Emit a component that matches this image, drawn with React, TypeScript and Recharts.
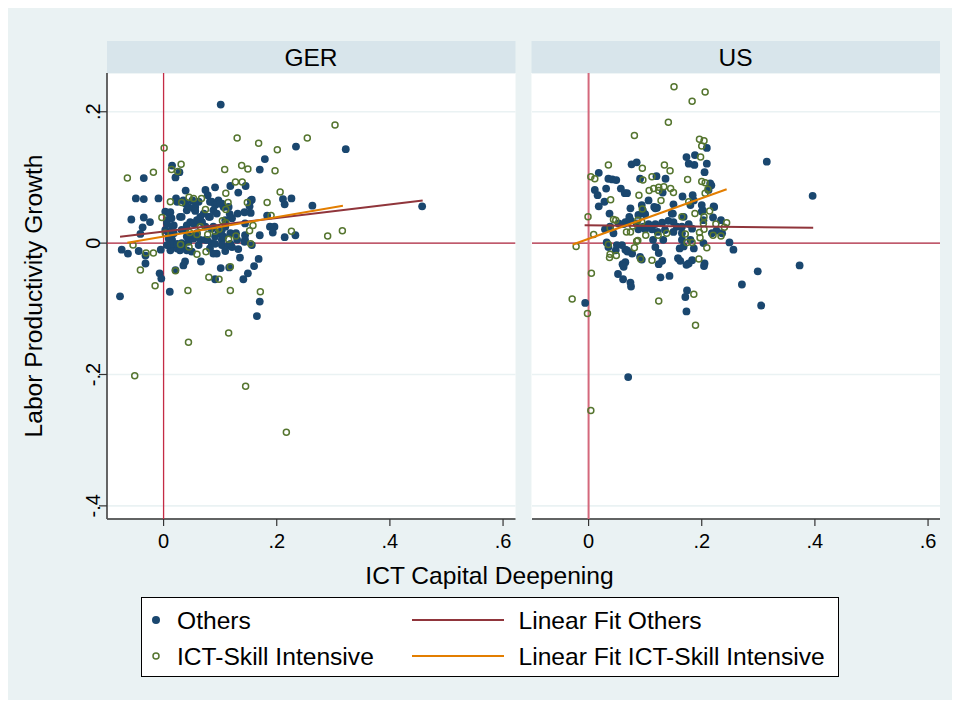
import React from "react";
import { ScatterChart, Scatter, XAxis, YAxis, CartesianGrid } from "recharts";

const FONT = "'Liberation Sans', Arial, Helvetica, sans-serif";
const NAVY = "#1A476F";
const GREEN = "#55752F";
const MAROON = "#90353B";
const ORANGE = "#E37E00";
const BG = "#EAF2F3";
const STRIP = "#D8E5EB";

const panels = ["GER", "US"];
const xTicks = [0, 0.2, 0.4, 0.6];
const yTicks = [-0.4, -0.2, 0, 0.2];
const xDomain = [-0.1, 0.622];
const yDomain = [-0.42, 0.259];

const gerOthers: number[][] = [
  [0.101,0.211],[0.234,0.147],[0.322,0.143],[0.457,0.056],[0.179,0.128],[0.170,0.112],[0.015,0.118],[0.021,0.100],[0.028,0.108],[-0.035,0.099],
  [-0.049,0.068],[-0.035,0.067],[-0.009,0.068],[0.091,0.085],[0.039,0.080],[0.118,0.087],[0.145,0.087],[0.132,0.077],[0.078,0.073],[0.156,0.066],
  [0.211,0.067],[0.226,0.068],[0.214,0.059],[0.263,0.057],[-0.057,0.036],[-0.035,0.039],[-0.024,0.032],[-0.037,0.024],[-0.041,0.014],[-0.074,-0.010],
  [-0.063,-0.016],[-0.044,-0.012],[-0.032,-0.019],[-0.032,-0.031],[-0.005,-0.010],[-0.077,-0.081],[-0.007,-0.046],[-0.004,-0.054],[0.011,-0.074],[0.035,-0.034],
  [0.066,-0.028],[0.094,-0.016],[0.101,-0.038],[0.091,-0.055],[0.116,-0.037],[0.135,-0.022],[0.168,-0.024],[0.160,-0.035],[0.149,-0.046],[0.141,-0.055],
  [0.165,-0.111],[0.170,-0.089],[0.132,-0.009],[0.170,0.012],[0.214,0.009],[0.233,0.012],[0.188,0.025],[0.196,0.025],[0.193,0.016],[0.183,0.042],
  [0.143,0.047],[0.154,0.046],[0.152,0.056],[0.154,0.065],[0.117,0.044],[0.144,0.012],[0.128,0.015],
  [0.022,0.068],[0.024,0.063],[0.039,0.060],[0.051,0.065],[0.062,0.063],[0.053,0.053],[0.041,0.050],[0.056,0.049],[0.085,0.063],[0.097,0.065],
  [0.103,0.060],[0.088,0.050],[0.094,0.045],[0.106,0.055],[0.115,0.055],[0.131,0.045],[0.144,0.030],[0.121,0.038],[0.103,0.020],[0.068,0.032],
  [0.056,0.030],[0.047,0.032],[0.041,0.027],[0.038,0.020],[0.047,0.010],[0.059,0.015],[0.074,0.025],[0.085,0.022],[0.091,0.010],[0.103,0.005],
  [0.118,0.015],[0.003,0.048],[0.010,0.045],[0.006,0.035],[0.003,0.020],[0.009,0.015],[0.015,0.005],[0.021,-0.006],[0.012,-0.011],[0.009,-0.003],
  [0.024,-0.008],[0.032,0.000],[0.044,0.007],[0.053,0.007],[0.074,0.005],[0.085,0.000],[0.103,-0.003],[0.115,-0.003],[0.156,-0.003],[0.021,-0.041],
  [0.029,0.040],[0.018,0.027],[0.032,0.020],[0.080,0.040],[0.109,0.035],[0.130,0.005],[0.144,0.005],[0.062,-0.003],[0.041,-0.011],[0.038,-0.028],
  [0.088,-0.016],[0.121,-0.006],[0.074,0.081],[0.050,-0.013],[0.082,-0.008],[0.109,-0.012],[0.143,0.002],
  [0.012,0.047],[0.014,0.038],[0.006,0.030],[0.015,0.025],[0.018,0.015],[0.009,0.007],[0.015,-0.001],[0.029,-0.011],[0.035,-0.003],[0.041,0.010],
  [0.053,0.030],[0.059,0.035],[0.065,0.040],[0.071,0.045],[0.056,0.055],[0.044,0.055],[0.032,0.040],[0.035,0.065],[0.082,0.063],[0.091,0.058],
  [0.100,0.060],[0.082,0.040],[0.088,0.025],[0.097,0.015],[0.109,0.025],[0.106,0.010],[0.118,-0.001],[0.091,-0.001],[0.077,0.005],[0.065,0.005],
  [0.056,0.012],[0.044,0.002],[0.024,-0.001],[0.006,-0.003]
];

const gerIct: number[][] = [
  [0.303,0.180],[0.130,0.160],[0.168,0.152],[0.201,0.142],[0.254,0.160],[0.001,0.145],[-0.064,0.099],[-0.018,0.108],[0.014,0.112],[0.031,0.120],
  [0.025,0.109],[0.108,0.112],[0.138,0.118],[0.149,0.113],[0.197,0.110],[0.127,0.093],[0.139,0.093],[0.110,0.076],[0.206,0.078],[0.012,0.063],
  [0.032,0.062],[0.045,0.070],[0.053,0.068],[0.067,0.068],[0.114,0.062],[0.148,0.062],[0.183,0.062],[0.074,0.051],[0.110,0.051],[-0.003,0.039],
  [0.190,0.042],[0.104,0.034],[0.110,0.031],[0.158,0.027],[0.152,0.019],[0.065,0.025],[0.098,0.021],[0.091,0.018],[0.046,0.016],[0.059,0.013],
  [0.078,0.013],[0.003,0.015],[0.128,0.011],[0.115,0.006],[0.226,0.018],[0.290,0.011],[0.316,0.019],[0.154,-0.001],[-0.054,-0.003],[0.030,-0.002],
  [0.045,-0.006],[-0.031,-0.015],[-0.018,-0.015],[0.059,-0.017],[0.075,-0.013],[-0.041,-0.041],[0.021,-0.042],[0.080,-0.052],[0.098,-0.055],[0.118,-0.036],
  [-0.015,-0.065],[0.043,-0.072],[0.118,-0.072],[0.171,-0.074],[0.044,-0.151],[0.115,-0.137],[-0.051,-0.202],[0.145,-0.218],[0.217,-0.288]
];

const usOthers: number[][] = [
  [0.315,0.124],[0.396,0.072],[0.018,0.107],[0.035,0.098],[0.042,0.097],[0.049,0.096],[0.076,0.120],[0.085,0.123],[0.011,0.081],[0.016,0.073],
  [0.031,0.083],[0.057,0.083],[0.064,0.076],[0.068,0.076],[0.091,0.098],[0.120,0.102],[0.136,0.098],[0.028,0.063],[0.018,0.056],[0.037,0.045],
  [0.106,0.065],[0.116,0.055],[0.121,0.054],[0.094,0.058],[0.072,0.040],[0.065,0.032],[0.131,0.077],[0.173,0.131],[0.188,0.134],[0.177,0.121],
  [0.187,0.119],[0.209,0.121],[0.209,0.145],[0.205,0.108],[0.217,0.088],[0.212,0.081],[0.221,0.056],[0.166,0.071],[0.184,0.073],[0.149,0.045],
  [0.168,0.040],[0.180,0.058],[0.202,0.050],[0.220,0.039],[0.234,0.035],[0.226,0.019],[0.218,0.015],[0.249,0.001],[0.256,-0.010],[0.029,0.021],
  [0.038,0.025],[0.053,0.030],[0.062,0.029],[0.071,0.034],[0.088,0.021],[0.097,0.025],[0.106,0.029],[0.118,0.029],[0.130,0.031],[0.141,0.034],
  [0.150,0.032],[0.156,0.025],[0.165,0.025],[0.177,0.029],[0.183,0.022],[0.165,0.015],[0.150,0.017],[0.135,0.020],[0.122,0.017],[0.112,0.021],
  [0.100,0.021],[0.114,0.005],[0.132,0.005],[0.165,0.005],[0.180,0.005],[0.032,0.001],[0.035,-0.006],[0.048,-0.011],[0.059,-0.003],[0.065,-0.010],
  [0.069,-0.013],[0.118,-0.006],[0.124,-0.015],[0.161,-0.008],[0.168,-0.005],[0.186,-0.008],[0.203,0.000],[0.065,-0.029],[0.060,-0.032],[0.091,-0.021],
  [0.094,-0.025],[0.124,-0.032],[0.130,-0.027],[0.158,-0.023],[0.162,-0.027],[0.177,-0.031],[0.183,-0.026],[0.205,-0.031],[0.204,-0.035],[0.052,-0.047],
  [0.061,-0.055],[0.074,-0.060],[0.075,-0.066],[0.127,-0.052],[0.143,-0.050],[0.174,-0.072],[0.171,-0.082],[-0.006,-0.091],[0.271,-0.063],[0.299,-0.043],
  [0.305,-0.095],[0.373,-0.034],[0.173,-0.104],[0.070,-0.204],[0.215,0.091],[0.200,0.058],[0.074,0.053],[0.150,0.059],[0.088,0.043],[0.100,0.044],
  [0.186,0.065],[0.222,0.055],
  [0.096,0.050],[0.085,0.030],[0.074,0.035],[0.044,0.015],[0.050,-0.003],[0.077,-0.016],[0.236,0.015],[0.203,0.035],[0.147,0.045],[0.118,0.053],
  [0.200,0.048],[0.068,-0.011],[0.173,-0.033],[0.062,-0.036]
];

const usIct: number[][] = [
  [0.151,0.238],[0.206,0.230],[0.183,0.216],[0.141,0.184],[0.081,0.164],[0.196,0.158],[0.204,0.156],[0.200,0.148],[0.198,0.131],[0.035,0.119],
  [0.004,0.101],[0.011,0.098],[0.095,0.114],[0.134,0.119],[0.144,0.110],[0.096,0.096],[0.112,0.101],[0.175,0.097],[0.039,0.066],[0.089,0.073],
  [0.107,0.080],[0.115,0.083],[0.124,0.085],[0.133,0.086],[0.145,0.083],[0.150,0.077],[0.124,0.080],[0.128,0.065],[0.200,0.094],[0.206,0.092],
  [0.211,0.082],[0.206,0.076],[0.095,0.052],[0.177,0.063],[0.165,0.040],[0.188,0.045],[0.204,0.040],[0.203,0.030],[0.204,0.021],[0.214,0.049],
  [0.225,0.029],[0.240,0.024],[0.244,0.031],[0.234,0.011],[0.220,0.012],[-0.001,0.040],[0.044,0.036],[0.048,0.035],[0.038,0.023],[0.009,0.013],
  [-0.022,-0.005],[0.067,0.017],[0.074,0.017],[0.087,0.035],[0.094,0.032],[0.078,0.026],[0.101,0.012],[0.123,0.012],[0.138,0.015],[0.085,0.003],
  [0.081,-0.007],[0.035,-0.002],[0.038,-0.017],[0.037,-0.022],[0.049,-0.019],[0.092,-0.024],[0.112,-0.026],[0.171,0.014],[0.174,0.001],[0.183,0.001],
  [0.196,0.016],[0.197,0.008],[0.209,-0.007],[0.195,-0.024],[0.005,-0.046],[-0.029,-0.085],[0.124,-0.088],[0.186,-0.078],[-0.002,-0.107],[0.189,-0.125],
  [0.004,-0.255],[0.087,0.004]
];

const gerFitOthers: number[][] = [[-0.077, 0.0096], [0.458, 0.065]];
const gerFitIct: number[][] = [[-0.064, 0.0005], [0.317, 0.057]];
const usFitOthers: number[][] = [[-0.007, 0.0274], [0.397, 0.0233]];
const usFitIct: number[][] = [[-0.028, -0.002], [0.244, 0.082]];

const refVertical: number[][] = [[0, -0.42], [0, 0.259]];
const refHorizontal: number[][] = [[-0.1, 0], [0.622, 0]];

const toPts = (a: number[][]) => a.map(([x, y]) => ({ x, y }));

const fmt = (v: number) => {
  if (Math.abs(v) < 1e-9) return "0";
  const s = Math.abs(v).toFixed(1).replace(/^0/, "");
  return (v < 0 ? "-" : "") + s;
};

const Dot = (p: any) => <circle cx={p.cx} cy={p.cy} r={3.9} fill={NAVY} />;
const Ring = (p: any) => (
  <circle cx={p.cx} cy={p.cy} r={3.0} fill="none" stroke={GREEN} strokeWidth={1.5} />
);
const NoShape = () => <g />;

const YTick = (props: any) => {
  const { y, payload } = props;
  const x = props.x + 1;
  return (
    <text
      x={x}
      y={y}
      transform={`rotate(-90 ${x} ${y})`}
      textAnchor="middle"
      fontSize={20}
      fontFamily={FONT}
      fill="#000"
    >
      {fmt(payload.value)}
    </text>
  );
};

const PLOT_H = 446;
const XAXIS_H = 50;
const PLOT_W = 408.5;

function Panel(props: {
  others: number[][];
  ict: number[][];
  fitO: number[][];
  fitI: number[][];
  showY: boolean;
  vColor: string;
  vWidth: number;
}) {
  const yW = props.showY ? 60 : 0;
  return (
    <ScatterChart
      width={yW + PLOT_W}
      height={PLOT_H + XAXIS_H}
      margin={{ top: 0, right: 0, bottom: 0, left: 0 }}
    >
      <CartesianGrid horizontal vertical={false} stroke={BG} strokeWidth={1.6} />
      <XAxis
        type="number"
        dataKey="x"
        domain={xDomain}
        ticks={xTicks}
        interval={0}
        allowDataOverflow
        tickFormatter={fmt}
        height={XAXIS_H}
        tickSize={7}
        tickMargin={8}
        axisLine={{ stroke: "#333", strokeWidth: 1.5 }}
        tickLine={{ stroke: "#333", strokeWidth: 1.2 }}
        tick={{ fill: "#000", fontSize: 20, fontFamily: FONT }}
      />
      <YAxis
        type="number"
        dataKey="y"
        domain={yDomain}
        ticks={yTicks}
        interval={0}
        allowDataOverflow
        hide={!props.showY}
        width={yW}
        tickSize={8}
        tickMargin={0}
        axisLine={{ stroke: "#555", strokeWidth: 1.8 }}
        tickLine={{ stroke: "#333", strokeWidth: 1.2 }}
        tick={<YTick />}
      />
      <Scatter
        data={toPts(refHorizontal)}
        line={{ stroke: "#B3263E", strokeWidth: 1.4 }}
        shape={NoShape}
        isAnimationActive={false}
      />
      <Scatter
        data={toPts(refVertical)}
        line={{ stroke: props.vColor, strokeWidth: props.vWidth }}
        shape={NoShape}
        isAnimationActive={false}
      />
      <Scatter data={toPts(props.others)} shape={Dot} isAnimationActive={false} />
      <Scatter data={toPts(props.ict)} shape={Ring} isAnimationActive={false} />
      <Scatter
        data={toPts(props.fitO)}
        line={{ stroke: MAROON, strokeWidth: 2 }}
        shape={NoShape}
        isAnimationActive={false}
      />
      <Scatter
        data={toPts(props.fitI)}
        line={{ stroke: ORANGE, strokeWidth: 2 }}
        shape={NoShape}
        isAnimationActive={false}
      />
    </ScatterChart>
  );
}

const LFS = 24.6;

export default function App() {
  const gerLeft = 107;
  const usLeft = 531.5;
  const top = 73;
  return (
    <div style={{ position: "absolute", left: 0, top: 0, width: 960, height: 702, background: "#fff" }}>
      <svg width={960} height={702} style={{ position: "absolute", left: 0, top: 0 }}>
        <rect x={8} y={8} width={944} height={692} fill={BG} />
        <rect x={gerLeft} y={41} width={PLOT_W} height={32} fill={STRIP} />
        <rect x={usLeft} y={41} width={PLOT_W} height={32} fill={STRIP} />
        <text x={gerLeft + 204} y={65.5} textAnchor="middle" fontSize={24.5} fontFamily={FONT} fill="#000">
          {panels[0]}
        </text>
        <text x={usLeft + 204} y={65.5} textAnchor="middle" fontSize={24.5} fontFamily={FONT} fill="#000">
          {panels[1]}
        </text>
        <rect x={gerLeft} y={top} width={PLOT_W} height={PLOT_H} fill="#fff" />
        <rect x={usLeft} y={top} width={PLOT_W} height={PLOT_H} fill="#fff" />
        <text
          x={42}
          y={296}
          transform="rotate(-90 42 296)"
          textAnchor="middle"
          fontSize={LFS}
          fontFamily={FONT}
          fill="#000"
        >
          Labor Productivity Growth
        </text>
        <text x={489.5} y={584} textAnchor="middle" fontSize={LFS} fontFamily={FONT} fill="#000">
          ICT Capital Deepening
        </text>
        <rect x={141.5} y={597.5} width={697} height={79} fill="#fff" stroke="#000" strokeWidth={1} />
        <circle cx={156} cy={620} r={4} fill={NAVY} />
        <text x={177} y={628.5} fontSize={LFS} fontFamily={FONT} fill="#000">Others</text>
        <circle cx={156} cy={656} r={3} fill="none" stroke={GREEN} strokeWidth={1.5} />
        <text x={177} y={664.5} fontSize={LFS} fontFamily={FONT} fill="#000">ICT-Skill Intensive</text>
        <line x1={412} y1={620} x2={504} y2={620} stroke={MAROON} strokeWidth={2} />
        <text x={518.5} y={628.5} fontSize={LFS} fontFamily={FONT} fill="#000">Linear Fit Others</text>
        <line x1={412} y1={656} x2={504} y2={656} stroke={ORANGE} strokeWidth={2} />
        <text x={518.5} y={664.5} fontSize={LFS} fontFamily={FONT} fill="#000">Linear Fit ICT-Skill Intensive</text>
      </svg>
      <div style={{ position: "absolute", left: gerLeft - 60, top }}>
        <Panel others={gerOthers} ict={gerIct} fitO={gerFitOthers} fitI={gerFitIct} showY={true} vColor="#C42B45" vWidth={1.3} />
      </div>
      <div style={{ position: "absolute", left: usLeft, top }}>
        <Panel others={usOthers} ict={usIct} fitO={usFitOthers} fitI={usFitIct} showY={false} vColor="#D4687C" vWidth={2} />
      </div>
    </div>
  );
}
